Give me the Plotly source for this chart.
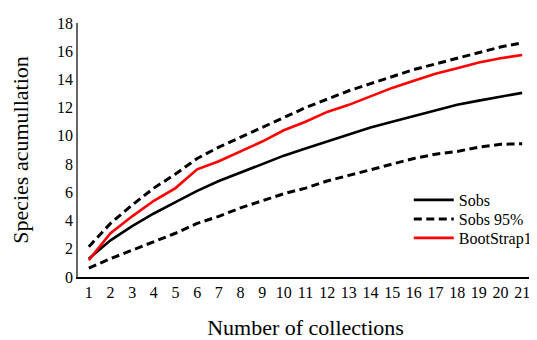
import plotly.graph_objects as go

collections = list(range(1, 22))
sobs = [1.3, 2.6, 3.6, 4.5, 5.3, 6.1, 6.8, 7.4, 8.0, 8.6, 9.1, 9.6, 10.1, 10.6, 11.0, 11.4, 11.8, 12.2, 12.5, 12.8, 13.05]
sobs_upper = [2.15, 3.8, 5.1, 6.3, 7.3, 8.4, 9.2, 9.9, 10.6, 11.3, 12.0, 12.6, 13.2, 13.7, 14.2, 14.7, 15.1, 15.5, 15.9, 16.3, 16.6]
sobs_lower = [0.63, 1.3, 1.9, 2.5, 3.1, 3.8, 4.3, 4.9, 5.4, 5.9, 6.3, 6.8, 7.2, 7.6, 8.0, 8.4, 8.7, 8.9, 9.2, 9.4, 9.45]
bootstrap1 = [1.2, 3.1, 4.3, 5.4, 6.3, 7.63, 8.2, 8.9, 9.6, 10.4, 11.0, 11.7, 12.2, 12.8, 13.4, 13.9, 14.4, 14.8, 15.2, 15.5, 15.73]
y_ticks = [0, 2, 4, 6, 8, 10, 12, 14, 16, 18]

font = "Liberation Serif, Times New Roman, serif"
dash = "8px,4.5px"

fig = go.Figure()
fig.add_trace(go.Scatter(x=collections, y=sobs, mode="lines", name="Sobs",
                         line=dict(color="black", width=2.6), legend="legend"))
fig.add_trace(go.Scatter(x=collections, y=sobs_upper, mode="lines", name="Sobs 95%",
                         line=dict(color="black", width=3, dash=dash), legend="legend2"))
fig.add_trace(go.Scatter(x=collections, y=bootstrap1, mode="lines", name="BootStrap1",
                         line=dict(color="#ff0000", width=2.6), legend="legend3"))
fig.add_trace(go.Scatter(x=collections, y=sobs_lower, mode="lines", name="Sobs 95%",
                         line=dict(color="black", width=3, dash=dash), legend="legend2",
                         showlegend=False))

leg_common = dict(xanchor="left", yanchor="middle", bgcolor="rgba(0,0,0,0)",
                  font=dict(size=16, family=font, color="black"), itemwidth=40)

# page body has an 8px margin, so figure is 8px smaller than the window
fig.update_layout(
    width=529, height=332,
    margin=dict(l=70, r=4, t=15, b=63, autoexpand=False),
    paper_bgcolor="white", plot_bgcolor="white",
    font=dict(family=font, size=16, color="black"),
    showlegend=True,
    legend=dict(x=0.727, y=(277 - 200) / 254, **leg_common),
    legend2=dict(x=0.727, y=(277 - 219) / 254, **leg_common),
    legend3=dict(x=0.727, y=(277 - 238) / 254, **leg_common),
    xaxis=dict(range=[0.5, 21.5], tickmode="array", tickvals=collections,
               ticktext=[str(c) for c in collections], automargin=False,
               showgrid=False, zeroline=False, showline=True, linecolor="black",
               linewidth=1.5, ticks="", tickfont=dict(size=16, family=font),
               title=dict(text="Number of collections", font=dict(size=22, family=font), standoff=21)),
    yaxis=dict(range=[0, 18], tickvals=y_ticks, showgrid=False, zeroline=False,
               showline=True, linecolor="#666666", linewidth=1.5, ticks="",
               automargin=False, tickfont=dict(size=16, family=font),
               title=dict(text="Species acumullation", font=dict(size=22, family=font), standoff=24)),
)

fig.write_html("out.html")
